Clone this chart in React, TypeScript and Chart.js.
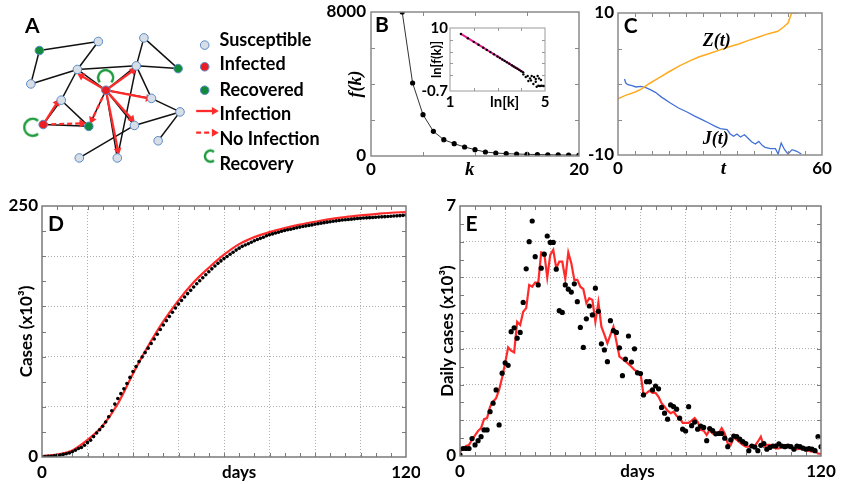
import React, { useEffect, useRef } from "react";
import { Chart, registerables } from "chart.js";
Chart.register(...registerables);

const SANS = "Lato, 'Liberation Sans', Arial, sans-serif";
const SERIF = "'Liberation Serif', 'DejaVu Serif', 'Times New Roman', serif";
const RED = "#ff2b2b";
const GREEN = "#1c9a3c";

// ---------- Panel A : network ----------
const nodePos: [number, number][] = [
  [32, 46], [94, 36], [142, 32], [72, 67], [134, 63], [178, 66], [23, 83], [102, 90], [150, 99],
  [55, 101], [180, 114], [36, 128], [84, 130], [132, 129], [157, 146], [74, 165], [114, 165],
];
const nodeState = ["R", "S", "S", "S", "S", "R", "S", "I", "S", "S", "S", "I", "R", "S", "S", "S", "S"];
const edgeList: [number, number][] = [
  [0, 1], [0, 6], [6, 3], [3, 1], [3, 4], [2, 4], [2, 5], [4, 5], [4, 8], [4, 16], [3, 7], [3, 9],
  [9, 12], [9, 11], [11, 12], [7, 12], [7, 4], [7, 8], [7, 13], [7, 16], [8, 10], [10, 14], [10, 13], [13, 15],
];
// [from node, tip x, tip y, dashed]
const arrowList: [number, number, number, number][] = [
  [7, 76, 74, 0], [7, 130.7, 68.3, 0], [7, 146.7, 99, 0], [7, 129.3, 122, 0], [7, 114.7, 156.7, 0],
  [11, 50.7, 103.7, 0], [11, 76.7, 126.7, 1], [7, 87.3, 122.7, 1],
];
const legendNodes: [number, number, string][] = [[206, 40, "S"], [206, 64, "I"], [206, 90, "R"]];
const legendArrows: [number, number, number, number, number][] = [[197, 113, 216, 113, 0], [197, 137, 216, 137, 1]];
const legendLabels = ["Susceptible", "Infected", "Recovered", "Infection", "No Infection", "Recovery"];
const legendLabelTop = [30, 54, 80, 104, 129, 154];
// recovery loops: x, y, radius, rotation
const loops: [number, number, number, number][] = [[25, 131, 8.5, 0], [101.7, 76, 7.5, 90], [212, 163, 5.5, 0]];

// ---------- Panel B ----------
const fkK = [3, 4, 5, 6, 7, 8, 9, 10, 11, 12, 13, 14, 15, 16, 17, 18, 19, 20];
const fkV = [8000, 4056, 2296, 1370, 907, 685, 500, 352, 222, 167, 130, 111, 93, 80, 70, 60, 55, 50];
const bXTicks = [0, 9.5, 20];
const bXLabels = ["0", "k", "20"];
const bYTicks = [0, 8000];
const bYLabels = ["0", "8000"];

// inset
const insetLineX = [1.46, 4.09];
const insetLineY = [8.99, 2.45];
const insetDotX = [1.46, 1.75, 2.0, 2.2, 2.4, 2.55, 2.7, 2.85, 3.0, 3.1, 3.2, 3.3, 3.4, 3.5, 3.6, 3.68, 3.76, 3.84, 3.92, 4.0, 4.08,
  4.09, 4.19, 4.27, 4.37, 4.44, 4.54, 4.61, 4.69, 4.75, 4.83, 4.30, 4.41, 4.51, 4.61, 4.65, 4.72, 4.79, 4.86, 4.93, 5.0];
const insetDotY = [8.99, 8.27, 7.65, 7.15, 6.65, 6.28, 5.91, 5.53, 5.16, 4.91, 4.66, 4.41, 4.17, 3.92, 3.67, 3.47, 3.27, 3.07, 2.87, 2.67, 2.47,
  2.12, 1.67, 1.84, 1.44, 1.84, 1.67, 1.33, 1.84, 1.44, 1.16, 0.99, 1.10, 0.48, 0.88, 0.03, 0.20, 0.15, 0.20, 0.15, 0.15];
const inXTicks = [1, 3.3, 5];
const inXLabels = ["1", "ln[k]", "5"];
const inYTicks = [-0.7, 10];
const inYLabels = ["-0.7", "10"];

// ---------- Panel C ----------
const zT = [0, 2.2, 5.1, 7.1, 9, 12, 14.9, 17.8, 20.8, 23.7, 26.7, 29.6, 32.5, 35.5, 38.4, 41.4, 44.3, 47, 48.7, 50, 50.9, 51.2, 52.9];
const zV = [-2.07, -1.6, -1.13, -0.66, 0, 0.85, 1.69, 2.49, 3.19, 3.8, 4.27, 4.74, 5.21, 5.63, 6.15, 6.62, 7.09, 7.42, 8.03, 8.59, 9.77, 10, 10];
const jT = [1.9, 2.3, 2.9, 4.1, 5.3, 6.6, 8, 9.5, 11, 12.9, 15.4, 17.8, 20.3, 22.7, 24.7, 26.7, 28.6, 30.1, 32.1, 33,
  34, 35, 36, 37.2, 38.4, 39.4, 40.4, 41.4, 42.4, 43.3, 44.8, 46.3, 47.1, 48, 49, 50, 51.2, 52.6, 53.9];
const jV = [0.7, 0.14, -0.09, -0.23, -0.42, -0.33, -0.47, -0.8, -1.17, -1.88, -2.68, -3.38, -3.94, -4.55, -5.02, -5.49, -5.96, -6.29, -6.43, -7.04,
  -7.37, -7.04, -7.46, -7.14, -7.7, -8.17, -8.45, -8.08, -8.64, -8.92, -9.11, -9.11, -9.86, -8.31, -9.25, -9.86, -9.25, -9.48, -9.86];
const cXTicks = [0, 31, 60];
const cXLabels = ["0", "t", "60"];
const cYTicks = [-10, 10];
const cYLabels = ["-10", "10"];

// ---------- Panel D ----------
const dCumDots = [
  0.3, 0.4, 0.6, 0.8, 1.3, 1.6, 2.0, 2.6, 3.3, 4.0,
  5.3, 6.7, 8.5, 9.4, 11.7, 14.3, 16.8, 20.3, 23.9, 27.2,
  30.6, 34.9, 40.1, 46.1, 52.7, 58.3, 63.1, 67.9, 73.2, 79.3,
  85.2, 90.2, 95.0, 99.6, 104.0, 108.4, 113.0, 117.6, 122.2, 127.0,
  131.5, 135.8, 140.0, 144.2, 148.4, 152.3, 155.9, 159.4, 162.7, 166.0,
  169.3, 172.5, 175.6, 178.6, 181.5, 184.5, 187.4, 190.2, 192.9, 195.3,
  197.6, 199.7, 201.9, 203.9, 206.1, 208.0, 209.8, 211.2, 212.4, 213.9,
  215.4, 216.6, 217.8, 218.9, 220.3, 221.4, 222.2, 223.1, 223.9, 224.8,
  225.6, 226.4, 226.8, 227.6, 228.3, 229.0, 229.6, 230.2, 230.7, 231.2,
  231.8, 232.4, 232.9, 233.4, 233.9, 234.3, 234.8, 235.2, 235.6, 236.0,
  236.3, 236.6, 236.9, 237.2, 237.5, 237.7, 238.0, 238.2, 238.4, 238.6,
  238.8, 239.0, 239.2, 239.4, 239.6, 239.8, 240.0, 240.2, 240.4, 240.7,
  241.0,
];
const dModelDays = [0, 5, 10, 15, 20, 25, 30, 35, 40, 45, 50, 55, 60, 65, 70, 75, 80, 85, 90, 95, 100, 105, 110, 115, 120];
const dModel = [1, 2.4, 6.6, 17, 31.2, 53, 83, 110.5, 135, 156, 174, 188.5, 201.5, 212, 219, 224, 228, 231.5, 234.3, 237, 239, 240.6, 242, 243.3, 244];
const dXTicks = [0, 65, 120];
const dXLabels = ["0", "days", "120"];
const dYTicks = [0, 250];
const dYLabels = ["0", "250"];
const dXGrid = [15, 30, 45, 60, 75, 90, 105];
const dYGrid = [50, 100, 150, 200];

// ---------- Panel E ----------
const eDailyDots = [
  0.03, 0.21, 0.21, 0.21, 0.49, 0.31, 0.43, 0.54, 0.73, 0.73,
  1.24, 1.48, 1.85, 0.87, 2.32, 2.61, 2.54, 3.48, 3.59, 3.30,
  3.46, 4.30, 5.24, 6.00, 6.58, 5.58, 4.79, 5.26, 5.65, 6.16,
  5.98, 5.98, 5.23, 4.07, 4.02, 4.79, 4.67, 4.59, 4.82, 4.32,
  3.60, 3.04, 3.84, 4.20, 3.95, 4.70, 4.05, 3.14, 2.97, 2.64,
  3.79, 3.51, 3.46, 3.03, 2.25, 2.71, 3.36, 2.63, 3.00, 2.33,
  2.31, 1.71, 2.08, 2.08, 1.85, 1.96, 1.88, 1.36, 1.20, 1.03,
  1.43, 1.38, 1.31, 1.06, 0.75, 0.70, 1.38, 0.85, 0.95, 0.75,
  0.84, 0.80, 0.43, 0.77, 0.71, 0.62, 0.63, 0.63, 0.50, 0.26,
  0.45, 0.56, 0.54, 0.47, 0.40, 0.35, 0.15, 0.28, 0.25, 0.15,
  0.30, 0.35, 0.19, 0.24, 0.28, 0.28, 0.34, 0.28, 0.26, 0.28,
  0.26, 0.19, 0.28, 0.26, 0.22, 0.19, 0.21, 0.19, 0.15, 0.54,
  0.26,
];
const eDailyModel = [
  0.12, 0.21, 0.28, 0.31, 0.45, 0.58, 0.70, 0.78, 1.03, 1.06,
  1.38, 1.52, 1.62, 1.85, 2.20, 2.60, 3.04, 2.95, 2.90, 3.76,
  3.67, 4.04, 4.14, 4.79, 4.74, 4.86, 4.84, 5.70, 5.68, 5.00,
  5.63, 5.77, 5.26, 5.44, 5.44, 4.96, 5.70, 5.40, 4.93, 4.93,
  4.74, 4.67, 4.28, 4.42, 4.37, 3.76, 4.30, 3.62, 3.40, 3.16,
  3.39, 3.62, 3.20, 2.78, 2.72, 2.65, 2.58, 2.50, 2.41, 2.36,
  2.32, 1.71, 1.76, 1.83, 1.77, 1.77, 1.66, 1.48, 1.38, 1.27,
  1.20, 1.24, 1.12, 1.06, 0.93, 0.93, 0.93, 0.99, 1.06, 0.96,
  0.73, 0.71, 0.59, 0.73, 0.63, 0.65, 0.65, 0.78, 0.63, 0.35,
  0.31, 0.52, 0.45, 0.38, 0.31, 0.26, 0.26, 0.31, 0.28, 0.40,
  0.54, 0.26, 0.31, 0.31, 0.26, 0.21, 0.21, 0.25, 0.31, 0.28,
  0.24, 0.21, 0.19, 0.20, 0.21, 0.17, 0.14, 0.12, 0.15, 0.07,
  0.06,
];
const eXTicks = [0, 59, 120];
const eXLabels = ["0", "days", "120"];
const eYTicks = [0, 7];
const eYLabels = ["0", "7"];
const eXGrid = [15, 30, 45, 60, 75, 90, 105];
const eYGrid = [1, 2, 3, 4, 5, 6];

const every = (a: number, b: number, s: number) => {
  const out: number[] = [];
  for (let v = a; v <= b + 1e-9; v += s) out.push(Math.round(v * 100) / 100);
  return out;
};

// ---------- plugins / helpers ----------
const framePlugin = {
  id: "frame",
  afterDraw(chart: any, _a: any, o: any) {
    if (!o || !o.on) return;
    const { ctx, chartArea: a, scales } = chart;
    ctx.save();
    ctx.setLineDash([]);
    ctx.lineWidth = 1;
    ctx.strokeStyle = o.color;
    ctx.beginPath();
    for (const v of o.xMinor || []) {
      const p = Math.round(scales.x.getPixelForValue(v)) + 0.5;
      ctx.moveTo(p, a.bottom); ctx.lineTo(p, a.bottom - o.len);
      ctx.moveTo(p, a.top); ctx.lineTo(p, a.top + o.len);
    }
    for (const v of o.yMinor || []) {
      const p = Math.round(scales.y.getPixelForValue(v)) + 0.5;
      ctx.moveTo(a.left, p); ctx.lineTo(a.left + o.len, p);
      ctx.moveTo(a.right, p); ctx.lineTo(a.right - o.len, p);
    }
    ctx.stroke();
    ctx.lineWidth = o.width;
    ctx.strokeRect(a.left, a.top, a.right - a.left, a.bottom - a.top);
    ctx.restore();
  },
};

const tickFont = { family: SANS, size: 17, weight: "bold" as const };

function makeAxis(o: any) {
  const all = [...o.ticks, ...(o.grid || [])].filter((v, i, arr) => arr.indexOf(v) === i).sort((a, b) => a - b);
  return {
    type: "linear",
    min: o.min,
    max: o.max,
    afterBuildTicks: (s: any) => { s.ticks = all.map((v: number) => ({ value: v })); },
    afterFit: (s: any) => {
      if (o.horizontal) s.height = o.size; else s.width = o.size;
      s.paddingLeft = 0; s.paddingRight = 0; s.paddingTop = 0; s.paddingBottom = 0;
    },
    ticks: {
      autoSkip: false, maxRotation: 0, minRotation: 0, padding: o.pad, color: "#000",
      font: o.fontFn || o.font || tickFont,
      callback: (v: number) => { const i = o.ticks.indexOf(v); return i >= 0 ? o.labels[i] : ""; },
    },
    grid: {
      drawTicks: false,
      lineWidth: 1,
      color: (c: any) => (o.grid && c.tick && o.grid.includes(c.tick.value) ? "#b0b0b0" : "rgba(0,0,0,0)"),
    },
    border: { display: false, dash: [1, 2] },
    title: o.title
      ? { display: true, text: o.title, color: "#000", font: o.titleFont || tickFont, padding: { top: o.titlePad, bottom: 0 } }
      : { display: false },
  };
}

const baseOpts = (padding: any, frame: any, scales: any) => ({
  responsive: false,
  animation: false,
  devicePixelRatio: 1,
  events: [],
  layout: { padding },
  plugins: { legend: { display: false }, tooltip: { enabled: false }, frame },
  scales,
});

function makeArc(r: number) {
  const c = document.createElement("canvas");
  const s = Math.ceil(r * 2 + 6);
  c.width = s; c.height = s;
  const g = c.getContext("2d")!;
  g.strokeStyle = GREEN;
  g.lineWidth = 2.4;
  g.beginPath();
  g.arc(s / 2, s / 2, r, Math.PI * 0.28, Math.PI * 1.72);
  g.stroke();
  return c;
}

const stateColor = (s: string) => (s === "S" ? "#d8dee6" : s === "I" ? "#ec1c24" : "#128a3c");
const rotOf = (fx: number, fy: number, tx: number, ty: number) => (Math.atan2(tx - fx, -(ty - fy)) * 180) / Math.PI;

function arrowDs(fx: number, fy: number, tx: number, ty: number, dashed: number) {
  return {
    data: [{ x: fx, y: fy }, { x: tx, y: ty }],
    showLine: true,
    borderColor: RED,
    borderWidth: 2.3,
    borderDash: dashed ? [5, 3] : [],
    pointRadius: [0, 4.6],
    pointStyle: "triangle",
    pointRotation: [0, rotOf(fx, fy, tx, ty)],
    pointBackgroundColor: RED,
    pointBorderColor: RED,
    pointBorderWidth: 0,
    order: 2,
  };
}

function makeA() {
  const datasets: any[] = [];
  edgeList.forEach(([a, b]) => {
    datasets.push({
      data: [{ x: nodePos[a][0], y: nodePos[a][1] }, { x: nodePos[b][0], y: nodePos[b][1] }],
      showLine: true, borderColor: "#111", borderWidth: 1.5, pointRadius: 0, order: 3,
    });
  });
  arrowList.forEach(([n, tx, ty, d]) => datasets.push(arrowDs(nodePos[n][0], nodePos[n][1], tx, ty, d)));
  legendArrows.forEach(([fx, fy, tx, ty, d]) => datasets.push(arrowDs(fx, fy, tx, ty, d)));
  datasets.push({
    data: nodePos.map(([x, y]) => ({ x, y })),
    pointRadius: 4.3,
    pointBackgroundColor: nodeState.map(stateColor),
    pointBorderColor: "#5b8ac6",
    pointBorderWidth: 1,
    order: 0,
  });
  datasets.push({
    data: legendNodes.map(([x, y]) => ({ x, y })),
    pointRadius: 4.3,
    pointBackgroundColor: legendNodes.map((n) => stateColor(n[2])),
    pointBorderColor: "#5b8ac6",
    pointBorderWidth: 1,
    order: 0,
  });
  datasets.push({
    data: loops.map(([x, y]) => ({ x, y })),
    pointRadius: 8,
    pointStyle: loops.map(([, , r]) => makeArc(r)),
    pointRotation: loops.map((l) => l[3]),
    order: 1,
  });
  return {
    type: "scatter",
    data: { datasets },
    options: baseOpts(0, { on: false }, {
      x: { type: "linear", min: 0, max: 360, display: false },
      y: { type: "linear", min: 0, max: 185, reverse: true, display: false },
    }),
  };
}

function makeB() {
  return {
    type: "scatter",
    data: {
      datasets: [{
        data: fkK.map((k, i) => ({ x: k, y: fkV[i] })),
        showLine: true, borderColor: "#333", borderWidth: 1, pointRadius: 2.6,
        pointBackgroundColor: "#000", pointBorderWidth: 0,
      }],
    },
    options: baseOpts({ left: 0, top: 12, right: 16, bottom: 0 },
      { on: true, color: "#8a8a8a", width: 1.5, len: 4, yMinor: [2000, 4000, 6000], xMinor: [5, 10, 15] },
      {
        x: makeAxis({
          min: 0, max: 20, ticks: bXTicks, labels: bXLabels, horizontal: true, size: 29, pad: 3,
          fontFn: (c: any) => (c.tick && c.tick.value === 9.5
            ? { family: SERIF, size: 19, weight: "bold", style: "italic" } : tickFont),
        }),
        y: makeAxis({
          min: 0, max: 8000, ticks: bYTicks, labels: bYLabels, size: 51, pad: 5,
          title: "f(k)", titleFont: { family: SERIF, size: 18, weight: "bold", style: "italic" }, titlePad: 26,
        }),
      }),
    plugins: [framePlugin],
  };
}

function makeInset() {
  const f = { family: SANS, size: 15, weight: "bold" as const };
  return {
    type: "scatter",
    data: {
      datasets: [
        { data: insetDotX.map((x, i) => ({ x, y: insetDotY[i] })), pointRadius: 1.2, pointBackgroundColor: "#000", pointBorderWidth: 0, order: 0 },
        { data: insetLineX.map((x, i) => ({ x, y: insetLineY[i] })), showLine: true, borderColor: "#e0208f", borderWidth: 2, pointRadius: 0, order: 1 },
      ],
    },
    options: baseOpts({ left: 0, top: 13, right: 10, bottom: 0 },
      { on: true, color: "#9a9a9a", width: 1, len: 3, yMinor: [2, 4, 6, 8], xMinor: [2, 3, 4] },
      {
        x: makeAxis({ min: 1, max: 5, ticks: inXTicks, labels: inXLabels, horizontal: true, size: 24, pad: 2, font: f }),
        y: makeAxis({
          min: -0.7, max: 10, ticks: inYTicks, labels: inYLabels, size: 35, pad: 2, font: f,
          title: "ln[f(k)]", titleFont: { family: SANS, size: 13, weight: "bold" }, titlePad: 14,
        }),
      }),
    plugins: [framePlugin],
  };
}

function makeC() {
  return {
    type: "scatter",
    data: {
      datasets: [
        { data: zT.map((t, i) => ({ x: t, y: zV[i] })), showLine: true, borderColor: "#ffab1f", borderWidth: 1.5, pointRadius: 0 },
        { data: jT.map((t, i) => ({ x: t, y: jV[i] })), showLine: true, borderColor: "#4271d6", borderWidth: 1.3, pointRadius: 0 },
      ],
    },
    options: baseOpts({ left: 0, top: 13, right: 19, bottom: 0 },
      { on: true, color: "#8a8a8a", width: 1.5, len: 4, yMinor: [-5, 0, 5], xMinor: every(5, 55, 5) },
      {
        x: makeAxis({
          min: 0, max: 60, ticks: cXTicks, labels: cXLabels, horizontal: true, size: 30, pad: 3,
          fontFn: (c: any) => (c.tick && c.tick.value === 31
            ? { family: SERIF, size: 19, weight: "bold", style: "italic" } : tickFont),
        }),
        y: makeAxis({ min: -10, max: 10, ticks: cYTicks, labels: cYLabels, size: 33, pad: 4 }),
      }),
    plugins: [framePlugin],
  };
}

function makeD() {
  return {
    type: "scatter",
    data: {
      datasets: [
        { data: dCumDots.map((v, i) => ({ x: i, y: v })), pointRadius: 1.8, pointBackgroundColor: "#000", pointBorderWidth: 0, order: 0 },
        {
          data: dModel.map((v, i) => ({ x: dModelDays[i], y: v })), showLine: true, borderColor: RED, borderWidth: 2.2,
          pointRadius: 0, cubicInterpolationMode: "monotone", order: 1,
        },
      ],
    },
    options: baseOpts({ left: 0, top: 16, right: 14, bottom: 0 },
      { on: true, color: "#7a7a7a", width: 1.5, len: 4, xMinor: every(5, 115, 5), yMinor: every(25, 225, 25) },
      {
        x: makeAxis({ min: 0, max: 120, ticks: dXTicks, labels: dXLabels, grid: dXGrid, horizontal: true, size: 27, pad: 5 }),
        y: makeAxis({ min: 0, max: 250, ticks: dYTicks, labels: dYLabels, grid: dYGrid, size: 42, pad: 4, title: "Cases (x10³)", titlePad: 16 }),
      }),
    plugins: [framePlugin],
  };
}

function makeE() {
  return {
    type: "scatter",
    data: {
      datasets: [
        { data: eDailyDots.map((v, i) => ({ x: i, y: v })), pointRadius: 2.6, pointBackgroundColor: "#000", pointBorderWidth: 0, order: 0 },
        { data: eDailyModel.map((v, i) => ({ x: i, y: v })), showLine: true, borderColor: RED, borderWidth: 2.2, pointRadius: 0, order: 1 },
      ],
    },
    options: baseOpts({ left: 0, top: 16, right: 20, bottom: 0 },
      { on: true, color: "#7a7a7a", width: 1.5, len: 4, xMinor: every(5, 115, 5), yMinor: every(0.5, 6.5, 0.5) },
      {
        x: makeAxis({ min: 0, max: 120, ticks: eXTicks, labels: eXLabels, grid: eXGrid, horizontal: true, size: 28, pad: 5 }),
        y: makeAxis({ min: 0, max: 7, ticks: eYTicks, labels: eYLabels, grid: eYGrid, size: 40, pad: 4, title: "Daily cases (x10³)", titlePad: 17 }),
      }),
    plugins: [framePlugin],
  };
}

function ChartBox({ left, top, width, height, make }: any) {
  const ref = useRef<HTMLCanvasElement>(null);
  useEffect(() => {
    const c = new Chart(ref.current as HTMLCanvasElement, make());
    return () => c.destroy();
  }, []);
  return (
    <canvas ref={ref} width={width} height={height}
      style={{ position: "absolute", left, top, width, height, display: "block" }} />
  );
}

const Txt = ({ x, y, size, serif, italic, children }: any) => (
  <div style={{
    position: "absolute", left: x, top: y, fontFamily: serif ? SERIF : SANS, fontWeight: 700,
    fontStyle: italic ? "italic" : "normal", fontSize: size, lineHeight: `${size}px`, whiteSpace: "nowrap", color: "#000",
  }}>{children}</div>
);

export default function App() {
  return (
    <div style={{ position: "absolute", left: 0, top: 0, width: 841, height: 484, background: "#fff", overflow: "hidden" }}>
      <ChartBox left={0} top={0} width={360} height={185} make={makeA} />
      <ChartBox left={320} top={0} width={275} height={185} make={makeB} />
      <ChartBox left={415} top={15} width={140} height={100} make={makeInset} />
      <ChartBox left={585} top={0} width={256} height={185} make={makeC} />
      <ChartBox left={0} top={190} width={420} height={294} make={makeD} />
      <ChartBox left={420} top={190} width={421} height={294} make={makeE} />
      {legendLabels.map((t, i) => (
        <Txt key={t} x={219.5} y={legendLabelTop[i]} size={18}>{t}</Txt>
      ))}
      <Txt x={25} y={14.4} size={21}>A</Txt>
      <Txt x={375} y={13.1} size={21}>B</Txt>
      <Txt x={623.7} y={13.7} size={21}>C</Txt>
      <Txt x={48} y={212.4} size={21}>D</Txt>
      <Txt x={465.5} y={212.4} size={21}>E</Txt>
      <Txt x={702.7} y={30.5} size={18} serif italic>Z(t)</Txt>
      <Txt x={702.7} y={128.8} size={18} serif italic>J(t)</Txt>
    </div>
  );
}
